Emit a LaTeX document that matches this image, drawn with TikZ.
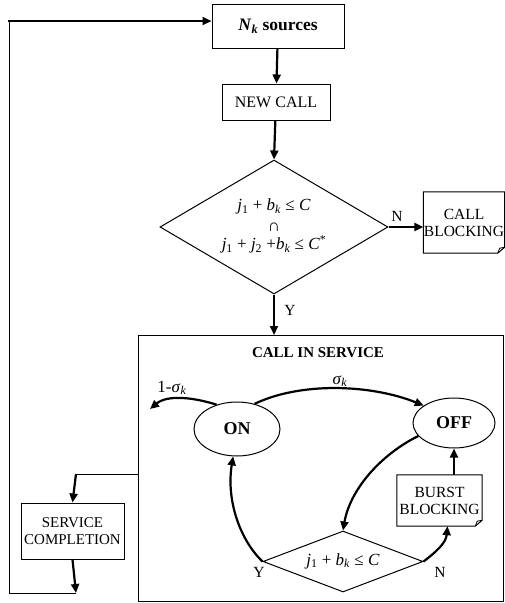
\documentclass[tikz,border=0pt]{standalone}
\usepackage{fontspec}
\setmainfont{Liberation Serif}
\usetikzlibrary{arrows.meta,shapes.geometric}
\newcommand\vi[1]{\textit{#1}}
\newcommand\sbx[1]{\textsubscript{#1}}
\tikzset{
 box/.style={draw, line width=1pt, rectangle, inner sep=0pt, align=center, font=\fontsize{15}{17}\selectfont},
 notebox/.style={rectangle, inner sep=0pt, align=center, font=\fontsize{15.5}{17}\selectfont},
 conn/.style={line width=2.2pt, -{Triangle[length=9pt,width=8pt]}},
 thinline/.style={line width=1pt},
 lab/.style={font=\fontsize{15.5}{17}\selectfont, inner sep=0pt},
 dia/.style={draw, diamond, line width=1pt, inner sep=0pt},
 diatext/.style={inner sep=0pt, align=center, font=\fontsize{17}{19}\selectfont},
 state/.style={draw, ellipse, line width=1pt, inner sep=0pt, font=\bfseries\fontsize{18}{20}\selectfont},
}
\begin{document}
\begin{tikzpicture}[x=1pt,y=-1pt]
\useasboundingbox (0,0) rectangle (505,603);
% nodes
\node[box, minimum width=132pt, minimum height=44pt, font=\bfseries\fontsize{17.5}{19}\selectfont] (src) at (278,26.5) {\vi{N}\sbx{\vi{k}} sources};
\node[box, minimum width=108pt, minimum height=36pt, font=\fontsize{16}{18}\selectfont] (new) at (276,102) {NEW CALL};
\node[dia, minimum width=228pt, minimum height=134pt] (d1) at (274,227) {};
\node[diatext] (d1t) at (274,226)
 {\vi{j}\sbx{1} + \vi{b}\sbx{\vi{k}} ≤ \vi{C}\\[2pt] ∩\\[-1pt] \vi{j}\sbx{1} + \vi{j}\sbx{2} +\vi{b}\sbx{\vi{k}} ≤ \vi{C}\textsuperscript{*}};
\node[notebox, minimum width=81pt, minimum height=61pt] (cb) at (464,222.5) {CALL\\BLOCKING};
\node[box, minimum width=365pt, minimum height=266pt] (svc) at (321,468.5) {};
\node[lab, font=\bfseries\fontsize{15}{16}\selectfont] (svct) at (318,353) {CALL IN SERVICE};
\node[state, minimum width=86pt, minimum height=54pt] (on) at (237,429) {ON};
\node[state, minimum width=82pt, minimum height=50pt] (off) at (454,423) {OFF};
\node[notebox, minimum width=85pt, minimum height=51pt] (bb) at (439.5,500.5) {BURST\\BLOCKING};
\node[dia, minimum width=160pt, minimum height=61pt] (d2) at (343,561.5) {};
\node[diatext] (d2t) at (343,561) {\vi{j}\sbx{1} + \vi{b}\sbx{\vi{k}} ≤ \vi{C}};
\node[box, minimum width=103pt, minimum height=56pt] (sc) at (72.5,531) {SERVICE\\COMPLETION};
% note boxes with folded corner
\foreach \n in {cb,bb}{
 \draw[line width=1pt] (\n.south west) -- (\n.north west) -- (\n.north east) -- ([yshift=6pt]\n.south east) -- ([xshift=-7pt]\n.south east) -- cycle;
 \draw[line width=0.8pt] ([yshift=6pt]\n.south east) -- ([xshift=-5pt,yshift=5pt]\n.south east) -- ([xshift=-7pt]\n.south east);
}
% coordinates
\coordinate (c1) at (9,21);
\coordinate (c2) at (9,593);
\coordinate (c3) at (76,593);
\coordinate (c4) at (76,474);
\coordinate (c5) at (150,409);
% connectors
\draw[conn] (src) -- (new);
\draw[conn] (new) -- (d1.north);
\draw[conn] (d1.east) -- (d1.east -| cb.west);
\draw[conn] (d1.south) -- (d1.south |- svc.north);
\draw[thinline] (svc.west |- c4) -- (c4);
\draw[conn] (c4) -- (sc.north);
\draw[conn] (sc.south) -- (c3);
\draw[thinline] (c3) -- (c2) -- (c1);
\draw[conn] ([xshift=-1.1pt]c1) -- (src.west |- c1);
\draw[conn] (on.55) .. controls (300,382) and (370,384) .. (off.150);
\draw[conn] (on.130) .. controls (196,398) and (168,394) .. (c5);
\draw[conn] (off.200) .. controls (380,455) and (350,490) .. (d2.north);
\draw[conn] (d2.west) .. controls (240,540) and (226,500) .. (on.262);
\draw[conn] (d2.east) .. controls (436,552) and (446,543) .. ([xshift=8pt]bb.south);
\draw[conn] (bb.north -| off.south) -- (off.south);
% labels
\node[lab] (ln1) at (397,216) {N};
\node[lab] (ly1) at (290,310) {Y};
\node[lab, font=\fontsize{17}{19}\selectfont] (lsig) at (340,381) {\vi{σ}\sbx{\vi{k}}};
\node[lab, font=\fontsize{17}{19}\selectfont] (lsig1) at (172,388) {1-\vi{σ}\sbx{\vi{k}}};
\node[lab] (ly2) at (259,572) {Y};
\node[lab] (ln2) at (440,572) {N};
\end{tikzpicture}
\end{document}
